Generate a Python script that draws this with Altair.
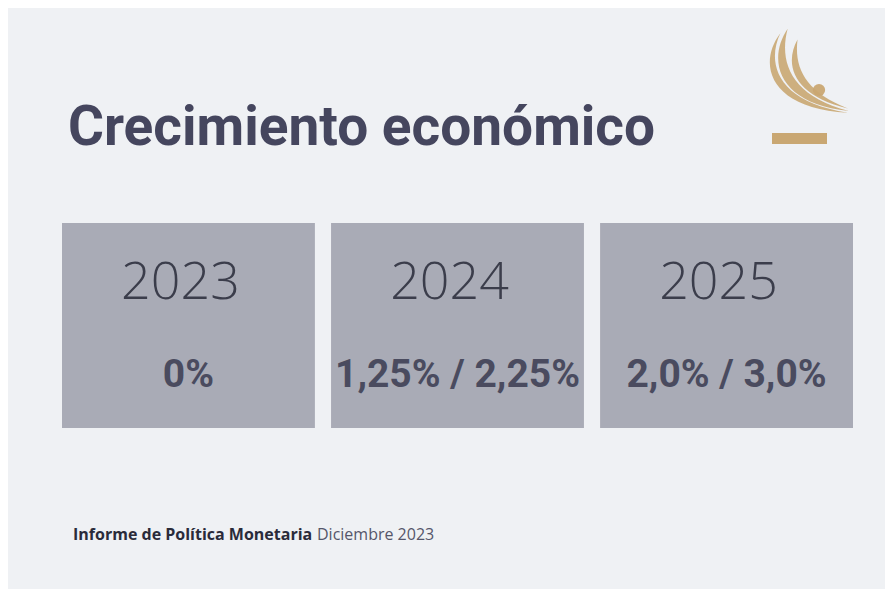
import altair as alt
import pandas as pd

years = ["2023", "2024", "2025"]
growth = ["0%", "1,25% / 2,25%", "2,0% / 3,0%"]
title_text = ["Crecimiento económico"]
footer_bold = ["Informe de Política Monetaria"]
footer_regular = ["Diciembre 2023"]

df = pd.DataFrame({"year": years, "growth": growth})

BG = "#eff1f4"
BOX = "#a9abb6"
GOLD = "#c9a772"
COND = "Roboto"

xenc = alt.X("year:N", sort=years, axis=None,
             scale=alt.Scale(range=[54, 845], paddingInner=0.06, paddingOuter=0))

base = alt.Chart(df)

boxes = base.mark_bar(color=BOX).encode(
    x=xenc, y=alt.value(215), y2=alt.value(420)
)

year_txt = base.mark_text(font="Open Sans", fontWeight=300, fontSize=52, dx=-8,
                          color="#3b3d4b", baseline="alphabetic").encode(
    x=xenc, y=alt.value(291), text="year:N"
)

val_txt = base.mark_text(font=COND, fontWeight="bold", fontSize=39,
                         color="#4a4b5f", baseline="alphabetic").encode(
    x=xenc, y=alt.value(379), text="growth:N"
)

title = alt.Chart(pd.DataFrame({"t": title_text})).mark_text(
    font=COND, fontWeight="bold", fontSize=55,
    color="#45465e", align="left", baseline="alphabetic"
).encode(x=alt.value(60), y=alt.value(137), text="t:N")

f1 = alt.Chart(pd.DataFrame({"t": footer_bold})).mark_text(
    font="Open Sans", fontWeight="bold", fontSize=16,
    color="#2a2b3a", align="left", baseline="alphabetic"
).encode(x=alt.value(65), y=alt.value(532), text="t:N")

f2 = alt.Chart(pd.DataFrame({"t": footer_regular})).mark_text(
    font="Open Sans", fontWeight=400, fontSize=16,
    color="#55566a", align="left", baseline="alphabetic"
).encode(x=alt.value(309), y=alt.value(532), text="t:N")

logo_path = (
    "M -0.62,-0.95 C -1.15,-0.25 -0.9,0.8 0.95,0.9 C -0.7,0.65 -0.95,-0.25 -0.62,-0.95 Z "
    "M -0.45,-1.05 C -0.95,-0.3 -0.65,0.7 0.97,0.86 C -0.4,0.5 -0.65,-0.3 -0.45,-1.05 Z "
    "M -0.22,-0.8 C -0.55,-0.2 -0.3,0.5 0.95,0.8 C -0.05,0.4 -0.3,-0.15 -0.22,-0.8 Z"
)
logo_df = pd.DataFrame({"k": ["logo"]})
swoosh = alt.Chart(logo_df).mark_point(
    shape=logo_path, filled=True, color=GOLD, opacity=0.9, size=7400, strokeWidth=0
).encode(x=alt.value(799), y=alt.value(66))
dot = alt.Chart(logo_df).mark_point(
    shape="circle", filled=True, color=GOLD, size=150, opacity=0.95
).encode(x=alt.value(811), y=alt.value(82))
bar = alt.Chart(logo_df).mark_rect(color=GOLD).encode(
    x=alt.value(764), x2=alt.value(819), y=alt.value(125), y2=alt.value(136)
)

chart = alt.layer(boxes, year_txt, val_txt, title, f1, f2, swoosh, dot, bar).properties(
    width=877, height=581, padding=0, background=BG,
    autosize=alt.AutoSizeParams(type="fit", contains="padding")
).configure_view(stroke=None)

chart.save("out.html", embed_options={"renderer": "svg", "actions": False})
